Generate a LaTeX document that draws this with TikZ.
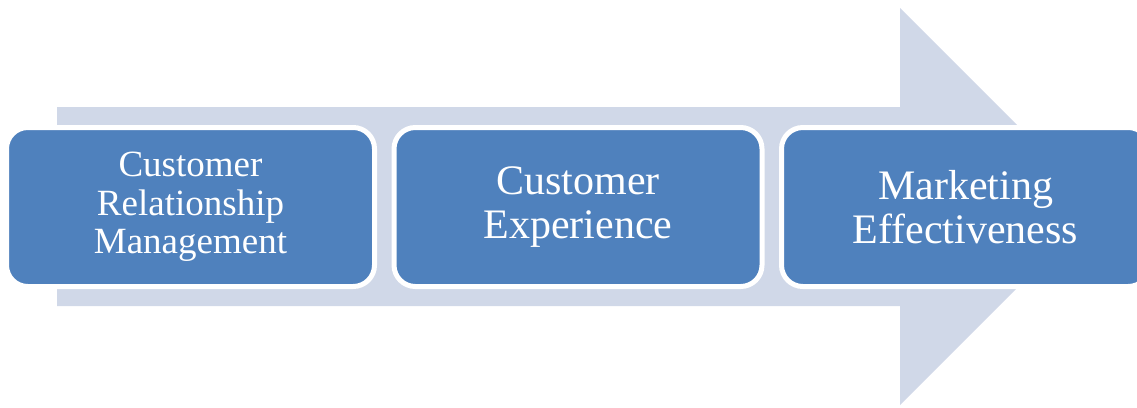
\documentclass[tikz,border=0pt]{standalone}
\usepackage{fontspec}
\setmainfont{Liberation Serif}
\definecolor{arrowfill}{HTML}{D0D8E8}
\definecolor{boxfill}{HTML}{4F81BD}
\tikzset{
  stagebox/.style={draw=white, line width=3.75pt, fill=boxfill, rounded corners=16pt,
    minimum width=276pt, minimum height=119.25pt, text=white, align=center,
    inner sep=0pt, font=\fontsize{31.5pt}{33pt}\selectfont},
  smallstage/.style={font=\fontsize{27.75pt}{28.9pt}\selectfont}
}
\begin{document}
\begin{tikzpicture}[x=0.75pt,y=-0.75pt]
\useasboundingbox (0,0) rectangle (1137,407);
\clip (0,0) rectangle (1137,407);
\fill[arrowfill] (57,107) -- (900,107) -- (900,8) -- (1098.5,206.5) -- (900,405) -- (900,306) -- (57,306) -- cycle;
\node[stagebox, smallstage] (b1) at (190.5,207) {Customer\\Relationship\\Management};
\node[stagebox] (b2) at (578,207) {Customer\\Experience};
\node[stagebox] (b3) at (965.5,207) {Marketing\\Effectiveness};
\end{tikzpicture}
\end{document}
